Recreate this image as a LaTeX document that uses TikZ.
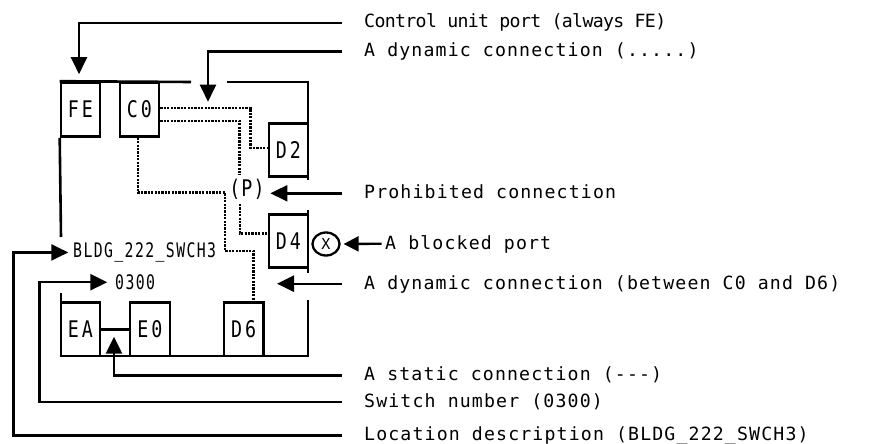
\documentclass[tikz,border=0pt]{standalone}
\usepackage{fontspec}
\usetikzlibrary{arrows.meta,shapes.geometric}
\newfontfamily\lblfont[LetterSpace=6.3]{DejaVu Sans Mono}
\newfontfamily\lblnarrow[LetterSpace=-3.6]{DejaVu Sans Mono}
\newfontfamily\boxfont[FakeStretch=0.8,LetterSpace=13]{DejaVu Sans Mono}
\newfontfamily\pfont[FakeStretch=0.8,LetterSpace=5]{DejaVu Sans Mono}
\newfontfamily\swfont[FakeStretch=0.74,LetterSpace=7]{DejaVu Sans Mono}
\begin{document}
\begin{tikzpicture}[x=1pt,y=-1pt,
  wall/.style={line width=2.6pt},
  portbox/.style={draw, line width=2.6pt, minimum width=39pt, minimum height=54pt, inner sep=0pt,
    font=\boxfont\fontsize{22.9}{24}\selectfont},
  dyn/.style={line width=2.4pt, dash pattern=on 2.2pt off 1.2pt},
  arr/.style={line width=2.4pt, -{Triangle[length=17pt,width=16pt]}},
  arrsmall/.style={line width=2.4pt, -{Triangle[length=15pt,width=15pt]}},
  lbl/.style={anchor=base west, inner sep=0pt, font=\lblfont\fontsize{18.2}{20}\selectfont},
  swlbl/.style={anchor=base west, inner sep=0pt, font=\swfont\fontsize{20}{22}\selectfont},
  xmark/.style={draw, ellipse, line width=2.3pt, minimum width=27pt, minimum height=23pt, inner sep=0pt,
    font=\lblfont\fontsize{15}{16}\selectfont}
]
\useasboundingbox (0,0) rectangle (876,444);

% port boxes
\node[portbox] (FE) at (80.5,109.5) {FE};
\node[portbox] (C0) at (139.5,109.5) {C0};
\node[portbox, minimum height=53.4pt] (D2) at (288.5,150) {D2};
\node[portbox, minimum height=53pt] (D4) at (288.5,240.8) {D4};
\node[portbox, minimum height=53.3pt] (EA) at (80.5,329.3) {EA};
\node[portbox, minimum width=40pt, minimum height=53.3pt] (E0) at (150,329.3) {E0};
\node[portbox, minimum width=39.3pt, minimum height=53.3pt] (D6) at (243.7,329.3) {D6};

% prohibited mark and blocked mark
\node[anchor=base, inner sep=4pt, font=\pfont\fontsize{22.9}{24}\selectfont] (P) at (247,196.7) {(P)};
\node[xmark] (X) at (326,244) {X};

% switch walls
\draw[wall] (FE.north west) -- (191,82);
\draw[wall] (227,82) -| (308,180);
\draw[wall] (FE.south west) -- (61,237);
\draw[wall] (308,210) -- (308,273);
\draw[wall] (61,293) -- (61,356) -- (308,356) -- (308,300);

% static connection
\draw[wall] (EA.east) -- (E0.west);

% dynamic connections
\draw[dyn] ([yshift=1.8pt]C0.east) -| ([xshift=-17.3pt,yshift=2.3pt]D2.west) -- ([yshift=2.3pt]D2.west);
\draw[dyn] ([yshift=-11.2pt]C0.east) -| ([xshift=-7.7pt]P.north);
\draw[dyn] ([xshift=-1.8pt]C0.south) |- (225,192.3) -- (225,250.7) -| ([xshift=9.6pt]D6.north);
\draw[dyn] ([xshift=-7pt]P.south) |- ([yshift=7.5pt]D4.west);

% label texts
\node[lbl, font=\lblnarrow\fontsize{18.2}{20}\selectfont] (l1) at (364,28) {Control unit port (always FE)};
\node[lbl] (l2) at (364,57) {A dynamic connection (.....)};
\node[lbl] (l3) at (364,198.5) {Prohibited connection};
\node[lbl] (l4) at (385,249) {A blocked port};
\node[lbl] (l5) at (364,289) {A dynamic connection (between C0 and D6)};
\node[lbl] (l6) at (364,380.5) {A static connection (---)};
\node[lbl] (l7) at (364,407.5) {Switch number (0300)};
\node[lbl] (l8) at (364,440.5) {Location description (BLDG\_222\_SWCH3)};

\node[swlbl] (loc) at (73,257.5) {BLDG\_222\_SWCH3};
\node[swlbl] (sw) at (115,289.5) {0300};

% label stub ends
\coordinate (s1) at (341.7,23.3);
\coordinate (s2) at (341.7,51.7);
\coordinate (s3) at (341.7,193.3);
\coordinate (s4) at (381.7,243.7);
\coordinate (s5) at (341.7,283.7);
\coordinate (s6) at (341.7,375.3);
\coordinate (s7) at (341.7,402);
\coordinate (s8) at (341.7,435.5);

% pointer arrows
\draw[arr] (s1) -| ([xshift=-1.5pt,yshift=7pt]FE.north);
\draw[arr] (s2) -| ([yshift=6pt]208,107.7);
\draw[arr] (s3) -- ([xshift=2.7pt]D2.west |- s3);
\draw[arrsmall] (s4) -- ([xshift=3pt]X.east);
\draw[arr] (s5) -- ([xshift=9.3pt]D4.west |- s5);
\draw[arr] (s6) -| (114,336.7);
\draw[arr] (s7) -| ([xshift=-75.7pt]sw.west) -- ([xshift=-7.7pt]sw.west);
\draw[arr] (s8) -| ([xshift=-59.7pt]loc.west) -- ([xshift=-4.7pt]loc.west);
\end{tikzpicture}
\end{document}
